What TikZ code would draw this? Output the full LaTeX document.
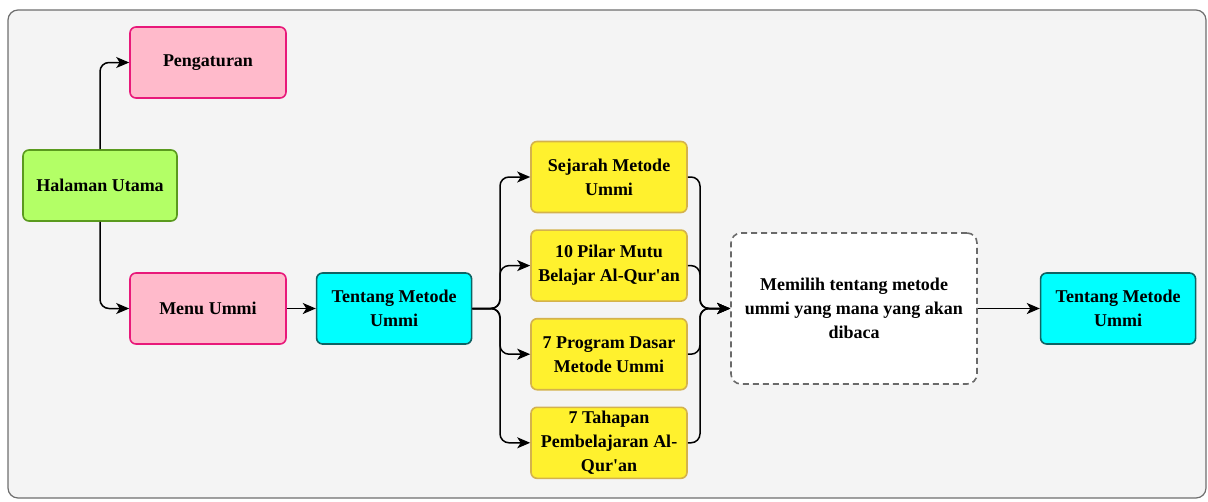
\documentclass[tikz,border=0pt]{standalone}
\usepackage{fontspec}
\setmainfont{Liberation Serif}
\usetikzlibrary{positioning}
\usetikzlibrary{arrows.meta}

\definecolor{bgfill}{HTML}{F4F4F4}
\definecolor{bgline}{HTML}{6E6E6E}
\definecolor{pinkfill}{HTML}{FFBACB}
\definecolor{pinkline}{HTML}{E8197A}
\definecolor{greenfill}{HTML}{B3FF66}
\definecolor{greenline}{HTML}{5A9A1E}
\definecolor{cyanfill}{HTML}{00FFFF}
\definecolor{cyanline}{HTML}{0E6464}
\definecolor{yellowfill}{HTML}{FFF12E}
\definecolor{yellowline}{HTML}{D4B24C}
\definecolor{dashline}{HTML}{6A6A6A}

\tikzset{
    box/.style={draw, rounded corners=6pt, line width=1.6pt, minimum width=155pt,
        minimum height=71pt, align=center, inner sep=3pt,
        font=\bfseries\fontsize{18}{24}\selectfont},
    pinkbox/.style={box, fill=pinkfill, draw=pinkline},
    greenbox/.style={box, fill=greenfill, draw=greenline},
    cyanbox/.style={box, fill=cyanfill, draw=cyanline},
    yellowbox/.style={box, fill=yellowfill, draw=yellowline, minimum width=156pt},
    choicebox/.style={box, fill=white, draw=dashline, dash pattern=on 6pt off 4pt,
        rounded corners=10pt, minimum width=246pt, minimum height=151pt},
    line/.style={line width=1.5pt, rounded corners=9pt},
    link/.style={line, -{Stealth[length=13pt, width=11pt, inset=3.5pt]}}
}

\begin{document}
\begin{tikzpicture}[x=1pt, y=-1pt]
    \useasboundingbox (0,0) rectangle (1208,501);
    \draw[fill=bgfill, draw=bgline, line width=1.2pt, rounded corners=10pt] (8,10) rectangle (1206,498);

    \node[greenbox, minimum width=154pt] (H) at (100,185.5) {Halaman Utama};
    \node[pinkbox, minimum width=156pt] (P) at (208,62.5) {Pengaturan};
    \node[pinkbox, minimum width=156pt] (M) at (208,308.5) {Menu Ummi};
    \node[cyanbox, right=29pt of M] (T1) {Tentang Metode\\Ummi};
    \node[yellowbox] (S1) at (609,177) {Sejarah Metode\\Ummi};
    \node[yellowbox, below=16pt of S1] (S2) {10 Pilar Mutu\\Belajar Al-Qur\textquotesingle an};
    \node[yellowbox, below=16pt of S2] (S3) {7 Program Dasar\\Metode Ummi};
    \node[yellowbox, below=16pt of S3] (S4) {7 Tahapan\\Pembelajaran Al-\\Qur\textquotesingle an};
    \node[choicebox] (D) at (854,308.5) {Memilih tentang metode\\ummi yang mana yang akan\\dibaca};
    \node[cyanbox, right=62pt of D] (T2) {Tentang Metode\\Ummi};

    \coordinate (split) at (500,308.5);
    \coordinate (merge) at (700,308.5);

    \draw[link] (H.north) |- (P.west);
    \draw[link] (H.south) |- (M.west);
    \draw[link] (M) -- (T1);
    \foreach \s in {S1,S2,S3,S4} {
        \draw[link] (T1.east) -- (split) |- (\s.west);
        \draw[link] (\s.east) -| (merge) -- (D.west);
    }
    \draw[link] (D) -- (T2);
\end{tikzpicture}
\end{document}
